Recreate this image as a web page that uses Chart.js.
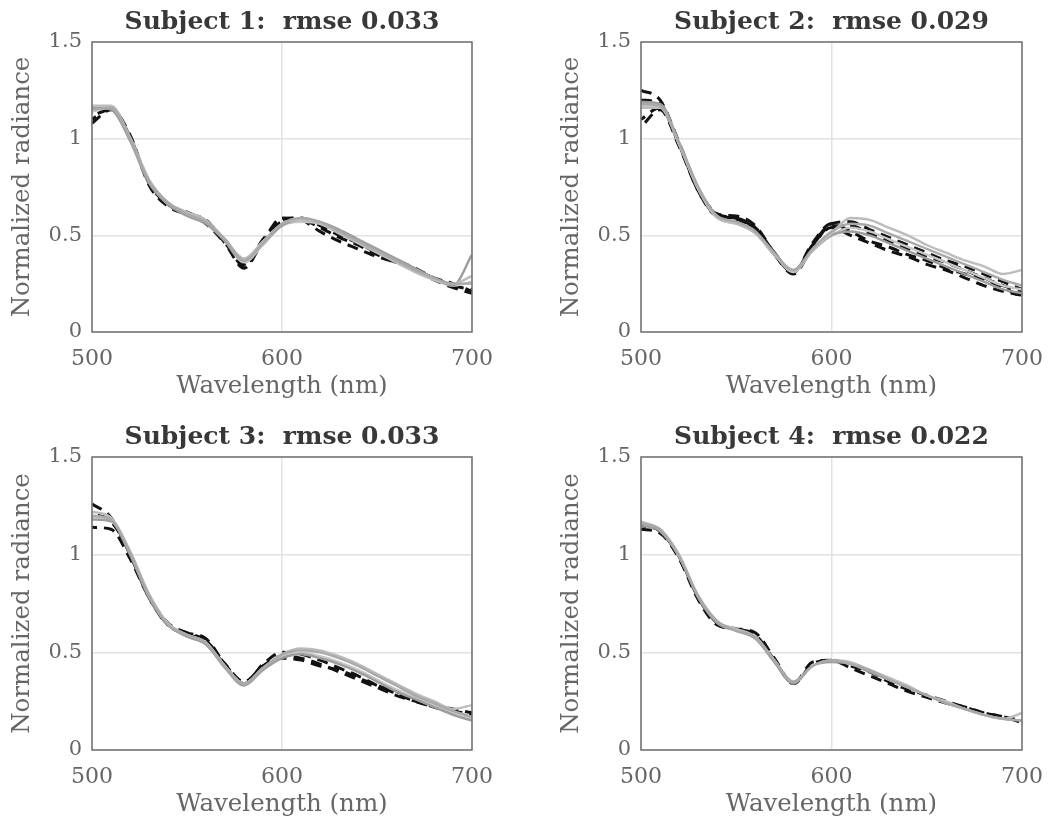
<!DOCTYPE html>
<html>
<head>
<meta charset="utf-8">
<script src="https://cdn.jsdelivr.net/npm/chart.js"></script>
<style>
  body { margin: 0; background: #fff; overflow: hidden; }
  #wrap { position: relative; width: 1048px; height: 823px; }
  canvas { position: absolute; }
</style>
</head>
<body>
<div id="wrap">
  <canvas id="c1" width="524" height="410" style="left:0;top:0"></canvas>
  <canvas id="c2" width="524" height="410" style="left:524px;top:0"></canvas>
  <canvas id="c3" width="524" height="413" style="left:0;top:410px"></canvas>
  <canvas id="c4" width="524" height="413" style="left:524px;top:410px"></canvas>
</div>
<script>
// wavelength samples (nm)
const wavelengths = [500, 510, 520, 530, 540, 550, 560, 570, 580, 590, 600, 610, 620, 630, 640, 650, 660, 670, 680, 690, 700];
const xTicks = [500, 600, 700];
const yTicks = [0, 0.5, 1, 1.5];
const subjectTitles = ['Subject 1:  rmse 0.033', 'Subject 2:  rmse 0.029', 'Subject 3:  rmse 0.033', 'Subject 4:  rmse 0.022'];

// black dashed = measured, gray = model
const s1Measured = [
    [1.08, 1.15, 1.02, 0.76, 0.65, 0.61, 0.58, 0.46, 0.33, 0.47, 0.59, 0.58, 0.52, 0.47, 0.43, 0.39, 0.36, 0.32, 0.27, 0.23, 0.20],
    [1.10, 1.16, 1.01, 0.77, 0.66, 0.62, 0.57, 0.47, 0.34, 0.48, 0.58, 0.59, 0.55, 0.50, 0.46, 0.41, 0.37, 0.33, 0.28, 0.25, 0.21],
    [1.12, 1.15, 1.00, 0.78, 0.66, 0.61, 0.56, 0.46, 0.35, 0.46, 0.57, 0.58, 0.54, 0.49, 0.45, 0.40, 0.36, 0.32, 0.28, 0.24, 0.22]
];
const s1Model = [
    [1.15, 1.16, 1.00, 0.78, 0.67, 0.61, 0.57, 0.48, 0.37, 0.46, 0.56, 0.59, 0.57, 0.52, 0.47, 0.42, 0.37, 0.32, 0.28, 0.25, 0.25],
    [1.17, 1.17, 1.01, 0.79, 0.67, 0.62, 0.58, 0.48, 0.38, 0.47, 0.56, 0.58, 0.56, 0.51, 0.46, 0.41, 0.36, 0.31, 0.27, 0.25, 0.29],
    [1.16, 1.15, 0.99, 0.77, 0.66, 0.60, 0.56, 0.47, 0.37, 0.46, 0.55, 0.58, 0.57, 0.53, 0.48, 0.43, 0.38, 0.33, 0.28, 0.24, 0.40],
    [1.14, 1.16, 1.00, 0.78, 0.66, 0.61, 0.57, 0.47, 0.36, 0.45, 0.55, 0.57, 0.56, 0.52, 0.47, 0.42, 0.37, 0.32, 0.27, 0.24, 0.26]
];

const s2Measured = [
    [1.25, 1.20, 0.98, 0.74, 0.61, 0.60, 0.55, 0.41, 0.31, 0.46, 0.56, 0.52, 0.47, 0.44, 0.40, 0.37, 0.33, 0.30, 0.27, 0.23, 0.18],
    [1.10, 1.16, 0.97, 0.73, 0.60, 0.59, 0.53, 0.40, 0.31, 0.45, 0.54, 0.50, 0.46, 0.42, 0.39, 0.35, 0.32, 0.28, 0.24, 0.21, 0.19],
    [1.06, 1.15, 0.96, 0.73, 0.60, 0.58, 0.52, 0.40, 0.30, 0.44, 0.55, 0.55, 0.51, 0.47, 0.43, 0.39, 0.36, 0.32, 0.28, 0.24, 0.21],
    [1.20, 1.18, 0.97, 0.74, 0.61, 0.59, 0.54, 0.41, 0.31, 0.45, 0.56, 0.57, 0.53, 0.49, 0.45, 0.41, 0.37, 0.34, 0.30, 0.26, 0.22]
];
const s2Model = [
    [1.18, 1.17, 0.98, 0.75, 0.60, 0.57, 0.52, 0.41, 0.32, 0.43, 0.52, 0.56, 0.55, 0.51, 0.47, 0.43, 0.39, 0.35, 0.31, 0.27, 0.24],
    [1.16, 1.16, 0.97, 0.74, 0.59, 0.56, 0.51, 0.40, 0.32, 0.42, 0.51, 0.59, 0.58, 0.54, 0.50, 0.45, 0.41, 0.37, 0.34, 0.30, 0.32],
    [1.19, 1.18, 0.98, 0.75, 0.60, 0.57, 0.52, 0.40, 0.32, 0.42, 0.50, 0.52, 0.50, 0.46, 0.42, 0.38, 0.34, 0.30, 0.26, 0.22, 0.20],
    [1.17, 1.17, 0.97, 0.74, 0.59, 0.56, 0.51, 0.40, 0.31, 0.42, 0.50, 0.54, 0.52, 0.48, 0.44, 0.40, 0.36, 0.32, 0.28, 0.24, 0.22]
];

const s3Measured = [
    [1.26, 1.19, 1.00, 0.78, 0.64, 0.60, 0.57, 0.44, 0.34, 0.43, 0.48, 0.47, 0.44, 0.40, 0.36, 0.32, 0.28, 0.25, 0.22, 0.19, 0.16],
    [1.14, 1.13, 0.98, 0.78, 0.64, 0.59, 0.56, 0.43, 0.34, 0.44, 0.50, 0.49, 0.46, 0.42, 0.38, 0.33, 0.29, 0.25, 0.22, 0.20, 0.18],
    [1.21, 1.17, 1.01, 0.79, 0.65, 0.60, 0.56, 0.44, 0.35, 0.43, 0.47, 0.46, 0.43, 0.41, 0.37, 0.33, 0.30, 0.26, 0.23, 0.21, 0.19]
];
const s3Model = [
    [1.20, 1.18, 1.01, 0.79, 0.64, 0.59, 0.55, 0.43, 0.34, 0.42, 0.49, 0.51, 0.50, 0.47, 0.43, 0.38, 0.33, 0.28, 0.24, 0.20, 0.17],
    [1.22, 1.19, 1.02, 0.80, 0.65, 0.59, 0.55, 0.43, 0.34, 0.42, 0.49, 0.52, 0.51, 0.48, 0.44, 0.39, 0.34, 0.29, 0.25, 0.21, 0.23],
    [1.18, 1.17, 1.00, 0.78, 0.64, 0.58, 0.54, 0.42, 0.33, 0.41, 0.47, 0.49, 0.47, 0.44, 0.40, 0.35, 0.30, 0.26, 0.22, 0.18, 0.15],
    [1.19, 1.18, 1.01, 0.79, 0.64, 0.59, 0.55, 0.43, 0.34, 0.42, 0.48, 0.50, 0.48, 0.45, 0.41, 0.36, 0.31, 0.27, 0.23, 0.19, 0.16]
];

const s4Measured = [
    [1.13, 1.11, 0.98, 0.77, 0.64, 0.62, 0.60, 0.47, 0.34, 0.45, 0.46, 0.42, 0.38, 0.34, 0.30, 0.27, 0.24, 0.22, 0.19, 0.17, 0.14],
    [1.15, 1.12, 0.99, 0.78, 0.65, 0.62, 0.59, 0.46, 0.34, 0.44, 0.46, 0.43, 0.40, 0.35, 0.31, 0.28, 0.25, 0.22, 0.19, 0.17, 0.15]
];
const s4Model = [
    [1.16, 1.13, 0.99, 0.79, 0.66, 0.61, 0.58, 0.46, 0.35, 0.43, 0.46, 0.44, 0.41, 0.36, 0.32, 0.28, 0.24, 0.21, 0.18, 0.16, 0.15],
    [1.17, 1.13, 1.00, 0.79, 0.66, 0.62, 0.58, 0.46, 0.35, 0.43, 0.46, 0.45, 0.41, 0.37, 0.33, 0.28, 0.25, 0.21, 0.18, 0.16, 0.19],
    [1.15, 1.12, 0.99, 0.78, 0.65, 0.61, 0.57, 0.45, 0.34, 0.43, 0.45, 0.44, 0.40, 0.36, 0.32, 0.28, 0.24, 0.21, 0.18, 0.16, 0.15]
];

const grayShades = ['#a9a9a9', '#bcbcbc', '#9d9d9d', '#c6c6c6'];
const FONT = '"DejaVu Serif", Georgia, serif';

// plot box of each panel, in canvas pixels
const panels = [
    { id: 'c1', measured: s1Measured, model: s1Model, w: 524, h: 410, left: 92, right: 472, top: 42, bottom: 332 },
    { id: 'c2', measured: s2Measured, model: s2Model, w: 524, h: 410, left: 117, right: 498, top: 42, bottom: 332 },
    { id: 'c3', measured: s3Measured, model: s3Model, w: 524, h: 413, left: 92, right: 472, top: 47, bottom: 340 },
    { id: 'c4', measured: s4Measured, model: s4Model, w: 524, h: 413, left: 117, right: 498, top: 47, bottom: 340 }
];

const toPoints = ys => ys.map((y, i) => ({ x: wavelengths[i], y: y }));

// full box round the plot area
const framePlugin = {
    id: 'frame',
    afterDatasetsDraw(chart) {
        const { ctx, chartArea: a } = chart;
        ctx.save();
        ctx.strokeStyle = '#707070';
        ctx.lineWidth = 1.5;
        ctx.strokeRect(a.left, a.top, a.right - a.left, a.bottom - a.top);
        ctx.restore();
    }
};

panels.forEach((p, k) => {
    const datasets = [];
    p.model.forEach((ys, i) => {
        datasets.push({
            data: toPoints(ys),
            borderColor: grayShades[i % grayShades.length],
            borderWidth: 2.4,
            order: 0
        });
    });
    p.measured.forEach((ys, i) => {
        datasets.push({
            data: toPoints(ys),
            borderColor: '#111111',
            borderWidth: 3,
            borderDash: [11, 7],
            borderDashOffset: i * 6,
            order: 1
        });
    });

    const titleLine = 25 * 1.2;
    const titleTop = p.top - 20 - titleLine / 2;

    new Chart(document.getElementById(p.id), {
        type: 'line',
        data: { datasets: datasets },
        options: {
            responsive: false,
            animation: false,
            devicePixelRatio: 1,
            layout: { padding: { left: 0, right: p.w - p.right, top: 0, bottom: 0 } },
            elements: {
                point: { radius: 0 },
                line: { cubicInterpolationMode: 'monotone', fill: false }
            },
            plugins: {
                legend: { display: false },
                tooltip: { enabled: false },
                title: {
                    display: true,
                    text: subjectTitles[k],
                    fullSize: false,
                    color: '#383838',
                    font: { family: FONT, size: 25, weight: 'bold', lineHeight: 1.2 },
                    padding: { top: titleTop, bottom: p.top - titleTop - titleLine }
                }
            },
            scales: {
                x: {
                    type: 'linear',
                    min: 500,
                    max: 700,
                    afterBuildTicks: s => { s.ticks = xTicks.map(v => ({ value: v })); },
                    afterFit: s => {
                        s.height = p.h - p.bottom;
                        s.paddingLeft = 0;
                        s.paddingRight = 0;
                    },
                    grid: { color: '#e2e2e2', lineWidth: 1.5, drawTicks: false },
                    border: { display: false },
                    ticks: {
                        color: '#666666',
                        padding: 14,
                        maxRotation: 0,
                        font: { family: FONT, size: 22 },
                        callback: v => String(v)
                    },
                    title: {
                        display: true,
                        text: 'Wavelength (nm)',
                        color: '#666666',
                        font: { family: FONT, size: 24.5, lineHeight: 1.2 },
                        padding: { top: 0, bottom: p.h - (p.bottom + 55) - 14.7 }
                    }
                },
                y: {
                    min: 0,
                    max: 1.5,
                    afterBuildTicks: s => { s.ticks = yTicks.map(v => ({ value: v })); },
                    afterFit: s => {
                        s.width = p.left;
                        s.paddingTop = 0;
                        s.paddingBottom = 0;
                    },
                    grid: { color: '#e2e2e2', lineWidth: 1.5, drawTicks: false },
                    border: { display: false },
                    ticks: {
                        color: '#666666',
                        padding: 10,
                        font: { family: FONT, size: 21 },
                        callback: v => String(v)
                    },
                    title: {
                        display: true,
                        text: 'Normalized radiance',
                        color: '#666666',
                        font: { family: FONT, size: 24.5, lineHeight: 1.2 },
                        padding: { top: p.left - 69 - 14.7, bottom: 0 }
                    }
                }
            }
        },
        plugins: [framePlugin]
    });
});
</script>
</body>
</html>
